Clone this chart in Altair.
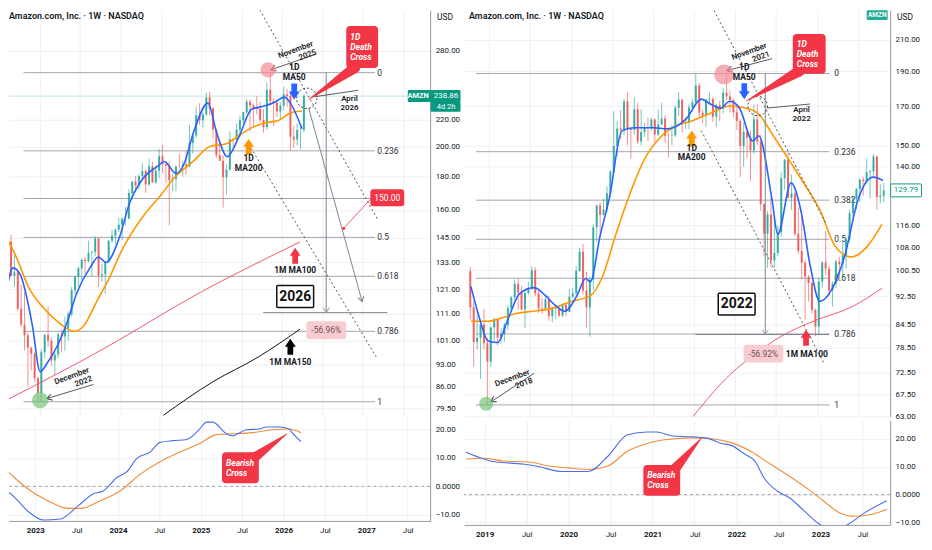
import altair as alt
import pandas as pd

FONT = "Roboto"
TXT = "#131722"
GRID = "#eef0f4"
AXC = "#9598a1"
FIBC = "#a3a6ad"
UP = "#26a69a"
DN = "#ef5350"
RED = "#f23645"
BLUE = "#2962ff"
ORANGE = "#ff9800"
TEAL = "#089981"

# ---------------------------------------------------------------- candles (half-month OHLC, 2018-10 .. 2026-04)
first_open = 100.2
high_vals = [
    101.7, 91, 88.7, 84.5, 88.9, 81,
    84, 86.5, 86, 83.5, 85, 90, 92.5, 97.5, 98, 95.5, 94, 97,
    101.8, 101.5, 94.6, 92, 92.5, 92.6, 89.5, 90, 90, 90.4, 90.5, 94.7,
    95, 101.8, 108, 109.3, 100, 98.5, 116.4, 124, 125, 126.3, 131.5, 138.4,
    167.2, 162, 167.7, 174, 177.6, 159, 174.8, 172, 168.3, 161, 163.7, 164,
    163.4, 168, 171.7, 165, 156, 160, 170.4, 177.7, 174, 164, 171, 174,
    188.65, 183, 168, 174, 177.7, 175, 171.5, 172.8, 180, 188.1, 178.5, 174,
    171.4, 163, 161.2, 158, 157.5, 170.8, 171, 155, 124.5, 121.5, 127, 119,
    116, 137.6, 143.5, 146.6, 136.5, 129, 123, 120, 104, 99, 97, 89,
    98, 103.5, 114, 102, 97, 104, 105, 110, 112, 122, 127, 131,
    135, 135.5, 143.6, 138.5, 145.9, 145, 132.3, 134, 144, 149, 150, 155.6,
    156, 161.7, 172, 177.2, 180.5, 181.7, 189, 185, 191.7, 189.7, 187.2, 198.3,
    201.2, 190, 190, 182, 187, 195, 190, 197.5, 215.9, 209, 230, 233,
    226, 241.8, 242.5, 230, 213, 205, 194, 188, 211, 206, 217, 223,
    226, 236.5, 236, 233, 238.8, 234, 228, 250.5, 258.6, 237, 235, 234,
    247, 245, 242, 215, 217, 216, 241,
]
low_vals = [
    86, 73.8, 78, 71, 78, 65.35,
    73.8, 80, 79, 79.5, 80, 83, 88, 91.5, 88.6, 88.5, 83.6, 93,
    94.5, 92.5, 87.8, 87.4, 88.4, 85.5, 85.1, 86, 86.5, 86.5, 86.7, 88,
    92.1, 92.4, 100, 93.1, 83.7, 81.3, 94.3, 110, 112, 120, 121, 127,
    137, 145, 153, 155, 150, 143.6, 155, 150.5, 150, 154, 151.9, 157,
    151.5, 154.2, 160, 151.1, 144.1, 150, 154, 164.5, 156.3, 158, 158, 167,
    171, 163.8, 161, 159, 171, 161.5, 158.8, 162, 166, 173, 166.5, 164,
    157.5, 135.4, 140, 144, 133.6, 146, 150, 121.6, 105, 101.3, 101.3, 101.4,
    105.2, 112, 130, 126.5, 122, 112, 106, 97.7, 85.9, 91, 87.5, 81.4,
    81.7, 95, 99, 92.5, 89.5, 95, 97, 97.5, 101, 110, 119, 122,
    125, 127.5, 133, 126.5, 136, 122, 124.5, 119.2, 133, 142.5, 142, 148,
    144, 151.5, 155, 166, 172, 172, 177, 170, 174, 176, 175.3, 179,
    182, 176, 151.6, 171, 171, 185, 180, 181, 186, 195, 206, 216,
    214, 223, 223, 206, 192, 190, 161.4, 169, 184, 197, 203, 207,
    217, 224, 211, 215, 224, 218, 210, 212, 231, 215, 222, 220,
    227, 230, 197, 199, 201, 198, 210,
]
close_vals = [
    89.3, 79.9, 81, 84.5, 79.6, 75.1,
    83.7, 85.9, 81.1, 82, 84.3, 89, 92.2, 96.3, 93.6, 88.7, 93.5, 94.6,
    100.5, 93.3, 89, 88.9, 91.6, 86.8, 88.8, 88.9, 87, 90, 88, 92.4,
    93.4, 100.4, 106.7, 94.2, 89.3, 97.5, 115.4, 123.7, 120, 122.1, 128.6, 137.9,
    149.6, 158.2, 157.4, 172.5, 157.9, 157.4, 168.2, 151.8, 156.4, 158.4, 158.3, 162.8,
    155.2, 160.3, 163.4, 154.6, 154.4, 154.7, 169, 173.4, 161.1, 161.2, 169.2, 172,
    181.6, 166.4, 164.9, 173.5, 173.8, 164.3, 170.5, 168.6, 177.3, 175.4, 173.3, 166.7,
    162.1, 149.6, 156.5, 153.6, 147.4, 163, 151.7, 124.3, 113, 120.2, 103.7, 106.2,
    113.5, 134.9, 143.2, 126.8, 128.5, 113, 106.9, 103, 98.5, 96.5, 88.5, 84,
    97, 103.1, 101, 94.2, 96.2, 103.3, 102.5, 105.5, 111, 120.6, 126.4, 130.4,
    134.3, 133.7, 137.6, 138, 144.7, 127.1, 127.6, 133.1, 143.6, 146.1, 149.2, 151.9,
    155.2, 155.2, 169.8, 176.8, 174.4, 180.4, 183.6, 175, 186.6, 176.4, 183.7, 193.3,
    187.9, 186.9, 177.6, 178.5, 186.5, 186.3, 187.7, 186.4, 202.6, 207.9, 223.3, 219.4,
    223.8, 237.7, 228.7, 212.3, 193.9, 190.3, 179.6, 184.4, 205.2, 205, 212.1, 219.4,
    225.7, 234.1, 231, 229, 228.2, 219.6, 214, 244.2, 234.7, 233.2, 226.2, 230.8,
    240.5, 239, 207, 205, 212, 212, 238.86,
]
R_last_candle = [2023.8125, 127.6, 133.0, 125.0, 129.79]  # t, open, high, low, close (partial week)

# ---------------------------------------------------------------- moving averages (t = decimal year)
L_ma50_t = [2022.586, 2022.670, 2022.766, 2022.826, 2022.910, 2023.006, 2023.102, 2023.222, 2023.342,
            2023.462, 2023.630, 2023.726, 2023.822, 2023.990, 2024.110, 2024.267, 2024.471, 2024.543,
            2024.687, 2024.783, 2024.903, 2025.083, 2025.191, 2025.323, 2025.467, 2025.623, 2025.743,
            2025.911, 2026.031, 2026.103, 2026.247]
L_ma50_p = [119.7, 130.5, 127, 119.7, 106.5, 90.6, 93.7, 99.4, 108, 119.7, 131, 135.6, 133, 145.6, 163.5,
            178, 187, 189.8, 182, 187.6, 210, 233, 210, 193, 207, 228, 230, 233.8, 238, 233, 213]
L_ma200_t = [2022.586, 2022.706, 2022.862, 2023.030, 2023.222, 2023.426, 2023.546, 2023.702, 2023.870,
             2024.026, 2024.267, 2024.507, 2024.663, 2024.903, 2025.107, 2025.311, 2025.467, 2025.623,
             2025.791, 2025.947, 2026.103, 2026.247]
L_ma200_p = [145.4, 136, 122, 114, 108, 104.4, 106.5, 115.7, 126.6, 139.5, 155.7, 169, 179, 190, 200, 202,
             208, 213.6, 217.5, 219, 225, 226.6]
L_mma100_t = [2022.586, 2023.786, 2024.987, 2026.223]
L_mma100_p = [81.9, 98.1, 119.7, 143]
L_mma150_t = [2024.531, 2025.143, 2025.707, 2026.223]
L_mma150_p = [77.7, 87.4, 95.4, 105.2]

R_ma50_t = [2018.779, 2018.872, 2018.988, 2019.105, 2019.221, 2019.373, 2019.548, 2019.688, 2019.804,
            2019.921, 2020.072, 2020.177, 2020.235, 2020.352, 2020.469, 2020.620, 2020.772, 2021.005,
            2021.168, 2021.401, 2021.587, 2021.704, 2021.821, 2021.937, 2022.054, 2022.217, 2022.287,
            2022.450, 2022.520, 2022.683, 2022.800, 2022.916, 2023.033, 2023.184, 2023.336, 2023.499,
            2023.685, 2023.802]
R_ma50_p = [95.4, 87.1, 80.2, 79.8, 85.4, 93.3, 95.1, 92.7, 89.9, 88.2, 92.7, 97.9, 96.9, 112, 127, 157,
            158.6, 158.6, 158, 163, 173.8, 171, 168.8, 172.6, 168.8, 152, 154.6, 126, 112.8, 133, 122,
            102, 91, 94.8, 105.2, 126, 135.4, 134]
R_ma200_t = [2018.779, 2018.988, 2019.140, 2019.338, 2019.536, 2019.769, 2020.002, 2020.235, 2020.387,
             2020.538, 2020.702, 2020.888, 2021.086, 2021.284, 2021.471, 2021.704, 2021.937, 2022.135,
             2022.287, 2022.450, 2022.636, 2022.834, 2023.033, 2023.219, 2023.417, 2023.615, 2023.790]
R_ma200_p = [85.4, 85.4, 86.2, 87.6, 88.2, 89.0, 91.0, 92.7, 98.8, 112, 127, 142.9, 153.7, 159.6, 162,
             166.3, 170, 168.8, 165.7, 155.6, 144.3, 133, 122, 108.6, 104.9, 108.6, 116.4]
R_mma100_t = [2021.483, 2021.949, 2022.252, 2022.531, 2022.963, 2023.429, 2023.790]
R_mma100_p = [62.9, 72.2, 77.0, 81.0, 85.5, 89.5, 94.9]

# ---------------------------------------------------------------- lower indicator (fast / slow)
L_fast_t = [2022.586, 2022.742, 2022.910, 2023.102, 2023.306, 2023.510, 2023.702, 2023.822, 2023.990,
            2024.110, 2024.230, 2024.387, 2024.507, 2024.663, 2024.831, 2024.987, 2025.071, 2025.143,
            2025.311, 2025.383, 2025.551, 2025.707, 2025.791, 2025.947, 2026.067, 2026.103, 2026.211]
L_fast_v = [-0.1, -3.6, -8.7, -11.8, -11.4, -7.0, -2.6, -1.6, 3.2, 5.2, 9.9, 12.0, 15.4, 16.0, 16.4, 20.1,
            22.5, 22.5, 18.4, 17.7, 19.8, 20.1, 20.8, 20.8, 20.1, 18.8, 15.7]
L_slow_t = [2022.586, 2022.742, 2022.946, 2023.150, 2023.390, 2023.546, 2023.786, 2024.026, 2024.267,
            2024.507, 2024.747, 2024.987, 2025.191, 2025.383, 2025.623, 2025.863, 2026.067, 2026.211]
L_slow_v = [7.6, 3.2, -1.6, -5.0, -7.7, -7.7, -5.0, -1.6, 4.2, 8.6, 12.0, 15.0, 18.1, 18.4, 18.8, 19.8,
            20.1, 18.8]
R_fast_t = [2018.779, 2018.988, 2019.140, 2019.455, 2019.653, 2019.921, 2020.235, 2020.469, 2020.702,
            2020.935, 2021.051, 2021.238, 2021.471, 2021.634, 2021.821, 2021.937, 2022.100, 2022.217,
            2022.333, 2022.485, 2022.636, 2022.800, 2022.986, 2023.184, 2023.336, 2023.534, 2023.790]
R_fast_v = [15.2, 12.8, 11.7, 11.0, 10.0, 8.3, 8.3, 13.8, 21.5, 22.5, 22.5, 21.1, 20.8, 20.4, 18.4, 17.7,
            14.5, 12.1, 5.8, 1.3, -1.2, -5.7, -10.6, -12.7, -10.6, -6.4, -2.2]
R_slow_t = [2018.779, 2018.988, 2019.221, 2019.536, 2019.769, 2020.002, 2020.235, 2020.469, 2020.702,
            2020.935, 2021.168, 2021.471, 2021.704, 2021.937, 2022.170, 2022.403, 2022.636, 2022.869,
            2023.033, 2023.219, 2023.417, 2023.615, 2023.790]
R_slow_v = [12.8, 13.1, 12.1, 11.7, 10.3, 9.6, 9.0, 10.3, 15.6, 18.4, 19.8, 20.4, 20.1, 18.7, 15.6, 11.0,
            6.5, 1.6, -2.2, -6.4, -7.8, -7.1, -5.3]

# ---------------------------------------------------------------- fibonacci & ticks
fib_levels = ["0", "0.236", "0.382", "0.5", "0.618", "0.786", "1"]
L_fib_prices = [259.4, 197, 166.6, 145.3, 126.7, 104.4, 81.5]
R_fib_prices = [188.65, 146.9, 125.8, 111.0, 98.0, 82.0, 65.35]
L_price_ticks = [280, 220, 200, 180, 160, 145, 133, 121, 111, 101, 93, 86, 79.5]
R_price_ticks = [210, 190, 170, 150, 140, 116, 108, 100.5, 92.5, 84.5, 78.5, 72.5, 67.5, 63]
ind_ticks = [-10, 0, 10, 20]
L_time_ticks = [2023, 2023.5, 2024, 2024.5, 2025, 2025.5, 2026, 2026.5, 2027, 2027.5]
R_time_ticks = [2019, 2019.5, 2020, 2020.5, 2021, 2021.5, 2022, 2022.5, 2023, 2023.5]
L_last_price = 238.86
R_last_price = 129.79
TITLE = "Amazon.com, Inc. · 1W · NASDAQ"

# ---------------------------------------------------------------- candle table
def half_month_t(i, y0=2018, m0=10):
    m = (m0 - 1) + i // 2
    return y0 + (m + 0.25 + 0.5 * (i % 2)) / 12.0

candles = pd.DataFrame({
    "t": [half_month_t(i) for i in range(len(close_vals))],
    "o": [first_open] + close_vals[:-1],
    "h": high_vals, "l": low_vals, "c": close_vals,
})
L_candles = candles[candles.t >= 2022.55].copy()
R_candles = candles[candles.t < 2023.79].copy()
R_candles = pd.concat([R_candles, pd.DataFrame([dict(zip(["t", "o", "h", "l", "c"], R_last_candle))])],
                      ignore_index=True)
for d in (L_candles, R_candles):
    d["dir"] = ["up" if c >= o else "dn" for o, c in zip(d.o, d.c)]


# ---------------------------------------------------------------- helpers
def rrect(w, h, r):
    s = w / 2.0
    a, b, c = 1.0, h / 2.0 / s, r / s
    f = lambda v: f"{v:.4f}"
    return ("M" + f(-a + c) + "," + f(-b) + "L" + f(a - c) + "," + f(-b) +
            "Q" + f(a) + "," + f(-b) + " " + f(a) + "," + f(-b + c) +
            "L" + f(a) + "," + f(b - c) +
            "Q" + f(a) + "," + f(b) + " " + f(a - c) + "," + f(b) +
            "L" + f(-a + c) + "," + f(b) +
            "Q" + f(-a) + "," + f(b) + " " + f(-a) + "," + f(b - c) +
            "L" + f(-a) + "," + f(-b + c) +
            "Q" + f(-a) + "," + f(-b) + " " + f(-a + c) + "," + f(-b) + "Z")


UP_ARROW = "M-0.36,1L0.36,1L0.36,0L0.68,0L0,-1L-0.68,0L-0.36,0Z"
CHEVRON = "M-1,-0.62L0,0L-1,0.62"


def seg(rows):
    return pd.DataFrame(rows, columns=["t", "p", "t2", "p2"])


def pts(rows, cols):
    return pd.DataFrame(rows, columns=cols)


def text_layers(rows, X, Y, ycol="p", lh=10, **kw):
    """Multi-line labels: shift up so the block is centred on its anchor."""
    out = []
    groups = {}
    for r in rows:
        groups.setdefault(r[2].count("\n") + 1, []).append(r)
    for n, rr in groups.items():
        out.append(alt.Chart(pts(rr, ["t", ycol, "s"]))
                   .mark_text(lineBreak="\n", lineHeight=lh, baseline="middle", dy=-(n - 1) * lh / 2.0, **kw)
                   .encode(x=X(), y=Y(), text="s:N"))
    return out


PANELS = {
    "L": dict(
        W=423, xdom=[2022.682, 2027.772], ydom=[77.4, 323.2], vdom=[-12.1, 24.5], ext=31,
        xticks=L_time_ticks, yticks=L_price_ticks, candles=L_candles, title_x=0,
        fib=L_fib_prices, fib_t=(2022.80, 2027.15), fib_lab_t=2027.18, fib_skip=["0.382"],
        lines=[(L_mma100_t, L_mma100_p, "#ef5a6f", 1.0), (L_mma150_t, L_mma150_p, "#111111", 1.0),
               (L_ma200_t, L_ma200_p, ORANGE, 1.6), (L_ma50_t, L_ma50_p, BLUE, 1.6)],
        ind=[(L_slow_t, L_slow_v, "#f28c38"), (L_fast_t, L_fast_v, "#4c6fe6")],
        channel=[(2025.671, 332.6, 2027.190, 154.3), (2025.587, 201.8, 2027.166, 95.4)],
        thin=[(2026.428, 277, 2025.863, 262), (2023.666, 86.6, 2023.090, 82.4), (2026.400, 238.3, 2026.944, 243.8)],
        gray=[(2026.331, 228.7, 2026.992, 115.9), (2026.547, 259.4, 2026.547, 111.5),
              (2025.767, 111.5, 2027.303, 111.5)],
        heads=[(2025.863, 262, 161, "#333333"), (2023.090, 82.4, 164, "#333333"),
               (2026.992, 115.9, 74, "#787b86"), (2026.547, 111.5, 90, "#9598a1")],
        pink=(2025.827, 262, 230), green=(2023.006, 81.9, 270), dashed=(2026.307, 237, 420),
        big=[(2026.151, 242.8, 180, BLUE), (2025.587, 199.8, 0, ORANGE), (2026.163, 136.2, 0, RED),
             (2026.103, 98.9, 0, "#000000")],
        bold=[(2026.151, 259.6, "1D\nMA50"), (2025.587, 188.6, "1D\nMA200"), (2026.163, 129.7, "1M MA100"),
              (2026.103, 93.8, "1M MA150")],
        rot=[(2026.403, 282.8, "November\n2025"), (2023.630, 89.7, "December\n2022")],
        april=(2026.835, 233, "April\n2026"),
        death=(2026.992, 283.9, 32, 42), death_ptr=[(2026.331, 236, 0.5), (2026.900, 264.0, 11)],
        yearbox=(2026.163, 118, "2026"), pct=(2026.547, 104.8, "-56.96%"),
        bear=(2025.479, 6.5), bear_ptr=[(2026.043, 18.4, 0.5), (2025.611, 9.3, 11)],
    ),
    "R": dict(
        W=428, xdom=[2018.755, 2023.83], ydom=[63.0, 231.0], vdom=[-10.9, 26.7], ext=31,
        xticks=R_time_ticks, yticks=R_price_ticks, candles=R_candles, title_x=5,
        fib=R_fib_prices, fib_t=(2018.84, 2023.15), fib_lab_t=2023.21, fib_skip=[],
        lines=[(R_mma100_t, R_mma100_p, "#ef5a6f", 1.0),
               (R_ma200_t, R_ma200_p, ORANGE, 1.6), (R_ma50_t, R_ma50_p, BLUE, 1.6)],
        ind=[(R_slow_t, R_slow_v, "#f28c38"), (R_fast_t, R_fast_v, "#4c6fe6")],
        channel=[(2021.692, 236.7, 2023.103, 117.1), (2021.587, 157.1, 2023.091, 74.4)],
        thin=[(2022.450, 197.8, 2021.902, 190.4), (2019.548, 72.3, 2019.023, 66.0), (2022.392, 168.9, 2022.916, 171.1)],
        gray=[(2022.368, 188.65, 2022.368, 81.85), (2021.517, 81.85, 2023.149, 81.85)],
        heads=[(2021.902, 190.4, 166, "#333333"), (2019.023, 66.0, 147, "#333333"),
               (2022.368, 81.85, 90, "#9598a1")],
        pink=(2021.867, 188.1, 400), green=(2018.965, 65.6, 200), dashed=(2022.275, 170, 380),
        big=[(2022.112, 178.2, 180, BLUE), (2021.471, 153.2, 0, ORANGE), (2022.865, 81.0, 0, RED)],
        bold=[(2022.112, 189.3, "1D\nMA50"), (2021.471, 146.5, "1D\nMA200"), (2022.875, 76.8, "1M MA100")],
        rot=[(2022.403, 203.5, "November\n2021"), (2019.513, 71.6, "December\n2018")],
        april=(2022.811, 165.2, "April\n2022"),
        death=(2022.904, 200.9, 33, 40), death_ptr=[(2022.135, 172.7, 0.5), (2022.780, 190.0, 11)],
        yearbox=(2022.019, 90.2, "2022"), pct=(2022.345, 77.0, "-56.92%"),
        bear=(2021.110, 5.1), bear_ptr=[(2021.587, 20.5, 0.5), (2021.249, 8.6, 11)],
    ),
}

H1, H2 = 408, 105
ONE = pd.DataFrame({"a": [0]})


def price_chart(key):
    S = PANELS[key]
    W = S["W"]
    xs = alt.Scale(domain=S["xdom"], nice=False, zero=False)
    ys = alt.Scale(type="log", domain=S["ydom"], nice=False)
    gx = alt.Axis(values=S["xticks"], labels=False, ticks=False, domain=False, grid=True,
                  gridColor=GRID, title=None)
    gy = alt.Axis(orient="right", values=S["yticks"], format=".2f", ticks=False, labelPadding=5,
                  labelFontSize=8, labelColor=TXT, labelOverlap=False, domainColor=AXC, grid=True,
                  gridColor=GRID, minExtent=S["ext"], maxExtent=S["ext"], title=None)

    def X(f="t"):
        return alt.X(f"{f}:Q", scale=xs, axis=gx)

    def Y(f="p"):
        return alt.Y(f"{f}:Q", scale=ys, axis=gy)

    layers = []
    # fib levels
    fib = pd.DataFrame({"p": S["fib"], "s": fib_levels})
    fib["t"], fib["t2"] = S["fib_t"]
    layers.append(alt.Chart(fib).mark_rule(color=FIBC, strokeWidth=1).encode(x=X(), x2="t2:Q", y=Y()))
    lab = fib[~fib.s.isin(S["fib_skip"])].copy()
    lab["t"] = S["fib_lab_t"]
    layers.append(alt.Chart(lab).mark_text(align="left", baseline="middle", fontSize=8.5, color="#2a2e39")
                  .encode(x=X(), y=Y(), text="s:N"))
    if key == "L":
        layers.append(alt.Chart(pd.DataFrame({"p": [L_last_price]}))
                      .mark_rule(color="#bfe6de", strokeWidth=1).encode(y=Y()))
    # candles
    cd = S["candles"]
    col = alt.Color("dir:N", scale=alt.Scale(domain=["up", "dn"], range=[UP, DN]), legend=None)
    layers.append(alt.Chart(cd).mark_rule(clip=True, strokeWidth=0.9, opacity=0.7)
                  .encode(x=X(), y=Y("l"), y2="h:Q", color=col))
    layers.append(alt.Chart(cd).mark_bar(clip=True, size=2.0, opacity=0.85)
                  .encode(x=X(), y=Y("o"), y2="c:Q", color=col))
    # moving averages
    for tt, pp, c, w in S["lines"]:
        layers.append(alt.Chart(pd.DataFrame({"t": tt, "p": pp}))
                      .mark_line(clip=True, color=c, strokeWidth=w, interpolate="monotone").encode(x=X(), y=Y()))
    # drawn lines
    layers.append(alt.Chart(seg(S["channel"])).mark_rule(clip=True, color="#555555", strokeWidth=1,
                                                         strokeDash=[2, 2.5])
                  .encode(x=X(), y=Y(), x2="t2:Q", y2="p2:Q"))
    layers.append(alt.Chart(seg(S["gray"])).mark_rule(color="#80838c", strokeWidth=1)
                  .encode(x=X(), y=Y(), x2="t2:Q", y2="p2:Q"))
    layers.append(alt.Chart(seg(S["thin"])).mark_rule(color="#333333", strokeWidth=0.8)
                  .encode(x=X(), y=Y(), x2="t2:Q", y2="p2:Q"))
    layers.append(alt.Chart(pts(S["heads"], ["t", "p", "a", "col"]))
                  .mark_point(shape=CHEVRON, size=100, filled=False, strokeWidth=1, opacity=1)
                  .encode(x=X(), y=Y(), angle=alt.Angle("a:Q", scale=None), color=alt.Color("col:N", scale=None)))
    if key == "L":
        layers.append(alt.Chart(seg([(2027.111, 167, 2026.763, 150)])).mark_rule(color=RED, strokeWidth=0.8)
                      .encode(x=X(), y=Y(), x2="t2:Q", y2="p2:Q"))
        layers.append(alt.Chart(pts([(2026.763, 150)], ["t", "p"]))
                      .mark_point(shape="circle", size=10, filled=True, color=RED, opacity=1)
                      .encode(x=X(), y=Y()))
    # circles
    t, p, s = S["pink"]
    layers.append(alt.Chart(pts([(t, p)], ["t", "p"]))
                  .mark_point(shape="circle", size=s, filled=True, color="#f28b96", opacity=0.7)
                  .encode(x=X(), y=Y()))
    t, p, s = S["green"]
    layers.append(alt.Chart(pts([(t, p)], ["t", "p"]))
                  .mark_point(shape="circle", size=s, filled=True, color="#6cc070", opacity=0.65)
                  .encode(x=X(), y=Y()))
    t, p, s = S["dashed"]
    layers.append(alt.Chart(pts([(t, p)], ["t", "p"]))
                  .mark_point(shape="circle", size=s, filled=False, color="#333333", strokeWidth=1,
                              strokeDash=[2, 2], opacity=1)
                  .encode(x=X(), y=Y()))
    # thick arrows
    layers.append(alt.Chart(pts(S["big"], ["t", "p", "a", "col"]))
                  .mark_point(shape=UP_ARROW, size=256, filled=True, opacity=1)
                  .encode(x=X(), y=Y(), angle=alt.Angle("a:Q", scale=None), color=alt.Color("col:N", scale=None)))
    # texts
    layers += text_layers(S["bold"], X, Y, lh=10, fontSize=8.5, fontWeight="bold", color=TXT)
    layers += text_layers(S["rot"], X, Y, lh=9, fontSize=8, fontWeight=600, color="#222222",
                          align="right", angle=340)
    layers += text_layers([S["april"]], X, Y, lh=9, fontSize=8, fontWeight=600, color="#222222")
    # death cross callout
    layers.append(alt.Chart(pts([(a, b, w, i, "g") for i, (a, b, w) in enumerate(S["death_ptr"])],
                                ["t", "p", "w", "o", "g"]))
                  .mark_trail(color=RED)
                  .encode(x=X(), y=Y(), size=alt.Size("w:Q", scale=None, legend=None), order="o:Q", detail="g:N"))
    dt, dp, dw, dh = S["death"]
    layers.append(alt.Chart(pts([(dt, dp)], ["t", "p"]))
                  .mark_point(shape=rrect(dw, dh, 4), size=dw * dw, filled=True, color=RED, opacity=1)
                  .encode(x=X(), y=Y()))
    layers += text_layers([(dt, dp, "1D\nDeath\nCross")], X, Y, lh=10, fontSize=8.5, fontWeight="bold",
                          fontStyle="italic", color="white", align="left", dx=-dw / 2 + 4)
    # year box
    yt, yp, ytxt = S["yearbox"]
    layers.append(alt.Chart(pts([(yt, yp)], ["t", "p"]))
                  .mark_point(shape=rrect(37, 22, 1), size=37 * 37, filled=True, fill="white", stroke="#111111",
                              strokeWidth=1.5, opacity=1)
                  .encode(x=X(), y=Y()))
    layers.append(alt.Chart(pts([(yt, yp, ytxt)], ["t", "p", "s"]))
                  .mark_text(fontSize=14, fontWeight="bold", color="#111111", baseline="middle")
                  .encode(x=X(), y=Y(), text="s:N"))
    # percentage box
    pt, pp_, ptxt = S["pct"]
    layers.append(alt.Chart(pts([(pt, pp_)], ["t", "p"]))
                  .mark_point(shape=rrect(40, 18, 3), size=40 * 40, filled=True, color="#f9ccd1", opacity=1)
                  .encode(x=X(), y=Y()))
    layers.append(alt.Chart(pts([(pt, pp_, ptxt)], ["t", "p", "s"]))
                  .mark_text(fontSize=8.5, color="#6b5257", baseline="middle")
                  .encode(x=X(), y=Y(), text="s:N"))
    if key == "L":
        layers.append(alt.Chart(pts([(2027.303, 167)], ["t", "p"]))
                      .mark_point(shape=rrect(34, 17, 3), size=34 * 34, filled=True, color=RED, opacity=1)
                      .encode(x=X(), y=Y()))
        layers.append(alt.Chart(pts([(2027.303, 167, "150.00")], ["t", "p", "s"]))
                      .mark_text(fontSize=8.5, color="white", baseline="middle")
                      .encode(x=X(), y=Y(), text="s:N"))
        # last price tag on the axis
        layers.append(alt.Chart(pd.DataFrame({"p": [L_last_price]}))
                      .mark_point(shape=rrect(53, 12, 1), size=53 * 53, filled=True, color=TEAL, opacity=1)
                      .encode(x=alt.value(W + 4), y=Y()))
        layers.append(alt.Chart(pd.DataFrame({"p": [230.0]}))
                      .mark_point(shape=rrect(30, 10, 1), size=30 * 30, filled=True, color=TEAL, opacity=1)
                      .encode(x=alt.value(W + 15.5), y=Y()))
        layers.append(alt.Chart(pd.DataFrame({"p": [L_last_price], "s": ["AMZN"]}))
                      .mark_text(fontSize=7.5, fontWeight="bold", color="white", baseline="middle")
                      .encode(x=alt.value(W - 12), y=Y(), text="s:N"))
        layers.append(alt.Chart(pd.DataFrame({"p": [L_last_price], "s": [f"{L_last_price:.2f}"]}))
                      .mark_text(fontSize=8, color="white", baseline="middle")
                      .encode(x=alt.value(W + 16), y=Y(), text="s:N"))
        layers.append(alt.Chart(pd.DataFrame({"p": [230.0], "s": ["4d 2h"]}))
                      .mark_text(fontSize=7.5, color="white", baseline="middle")
                      .encode(x=alt.value(W + 16), y=Y(), text="s:N"))
    else:
        layers.append(alt.Chart(pd.DataFrame({"p": [R_last_price]}))
                      .mark_point(shape=rrect(31, 13, 1), size=31 * 31, filled=True, fill="white", stroke=TEAL,
                                  strokeWidth=1, opacity=1)
                      .encode(x=alt.value(W + 16), y=Y()))
        layers.append(alt.Chart(pd.DataFrame({"p": [R_last_price], "s": [f"{R_last_price:.2f}"]}))
                      .mark_text(fontSize=8, color=TEAL, baseline="middle")
                      .encode(x=alt.value(W + 16), y=Y(), text="s:N"))
        layers.append(alt.Chart(ONE)
                      .mark_point(shape=rrect(21, 10, 1), size=21 * 21, filled=True, color="#22ab94", opacity=1)
                      .encode(x=alt.value(W - 13), y=alt.value(5)))
        layers.append(alt.Chart(ONE)
                      .mark_text(fontSize=6.5, fontWeight="bold", color="white", baseline="middle")
                      .encode(x=alt.value(W - 13), y=alt.value(5), text=alt.value("AMZN")))
    # title + currency
    layers.append(alt.Chart(ONE)
                  .mark_text(align="left", baseline="middle", fontSize=9, fontWeight=600, color=TXT)
                  .encode(x=alt.value(S["title_x"]), y=alt.value(6), text=alt.value(TITLE)))
    layers.append(alt.Chart(ONE)
                  .mark_text(align="center", baseline="middle", fontSize=8.5, color=TXT)
                  .encode(x=alt.value(W + 15), y=alt.value(7), text=alt.value("USD")))
    return alt.layer(*layers).properties(width=W, height=H1)


def ind_chart(key):
    S = PANELS[key]
    xs = alt.Scale(domain=S["xdom"], nice=False, zero=False)
    vs = alt.Scale(domain=S["vdom"], nice=False, zero=False)
    ax = alt.Axis(values=S["xticks"],
                  labelExpr="datum.value % 1 == 0 ? format(datum.value, 'd') : 'Jul'",
                  labelFontWeight={"condition": {"test": "datum.value % 1 == 0", "value": "bold"},
                                   "value": "normal"},
                  labelFontSize=8, labelColor=TXT, labelPadding=6, labelFlush=False, labelOverlap=False,
                  ticks=False, domainColor=AXC, grid=True, gridColor=GRID, title=None)
    ay = alt.Axis(orient="right", values=ind_ticks,
                  labelExpr="datum.value == 0 ? '0.0000' : format(datum.value, '.2f')",
                  ticks=False, labelPadding=5, labelFontSize=8, labelColor=TXT, labelOverlap=False,
                  domainColor=AXC, grid=True, gridColor=GRID, minExtent=S["ext"], maxExtent=S["ext"], title=None)

    def X(f="t"):
        return alt.X(f"{f}:Q", scale=xs, axis=ax)

    def Y(f="v"):
        return alt.Y(f"{f}:Q", scale=vs, axis=ay)

    layers = [alt.Chart(pd.DataFrame({"v": [0]}))
              .mark_rule(color="#a0a3ab", strokeDash=[3, 3], strokeWidth=1).encode(y=Y())]
    for tt, vv, c in S["ind"]:
        layers.append(alt.Chart(pd.DataFrame({"t": tt, "v": vv}))
                      .mark_line(clip=True, color=c, strokeWidth=1.1, interpolate="monotone").encode(x=X(), y=Y()))
    layers.append(alt.Chart(pts([(a, b, w, i, "g") for i, (a, b, w) in enumerate(S["bear_ptr"])],
                                ["t", "v", "w", "o", "g"]))
                  .mark_trail(color=RED)
                  .encode(x=X(), y=Y(), size=alt.Size("w:Q", scale=None, legend=None), order="o:Q", detail="g:N"))
    bt, bv = S["bear"]
    layers.append(alt.Chart(pts([(bt, bv)], ["t", "v"]))
                  .mark_point(shape=rrect(37, 31, 4), size=37 * 37, filled=True, color=RED, opacity=1)
                  .encode(x=X(), y=Y()))
    layers += text_layers([(bt, bv, "Bearish\nCross")], X, Y, ycol="v", lh=10, fontSize=8.5, fontWeight="bold",
                          fontStyle="italic", color="white", align="left", dx=-14.5)
    return alt.layer(*layers).properties(width=S["W"], height=H2)


left = alt.vconcat(price_chart("L"), ind_chart("L"), spacing=0)
right = alt.vconcat(price_chart("R"), ind_chart("R"), spacing=0)
chart = (alt.hconcat(left, right, spacing=2, padding=0)
         .configure(font=FONT)
         .configure_view(strokeWidth=0)
         .configure_axis(labelFont=FONT))

chart.save("out.html", embed_options={"renderer": "svg", "actions": False})
